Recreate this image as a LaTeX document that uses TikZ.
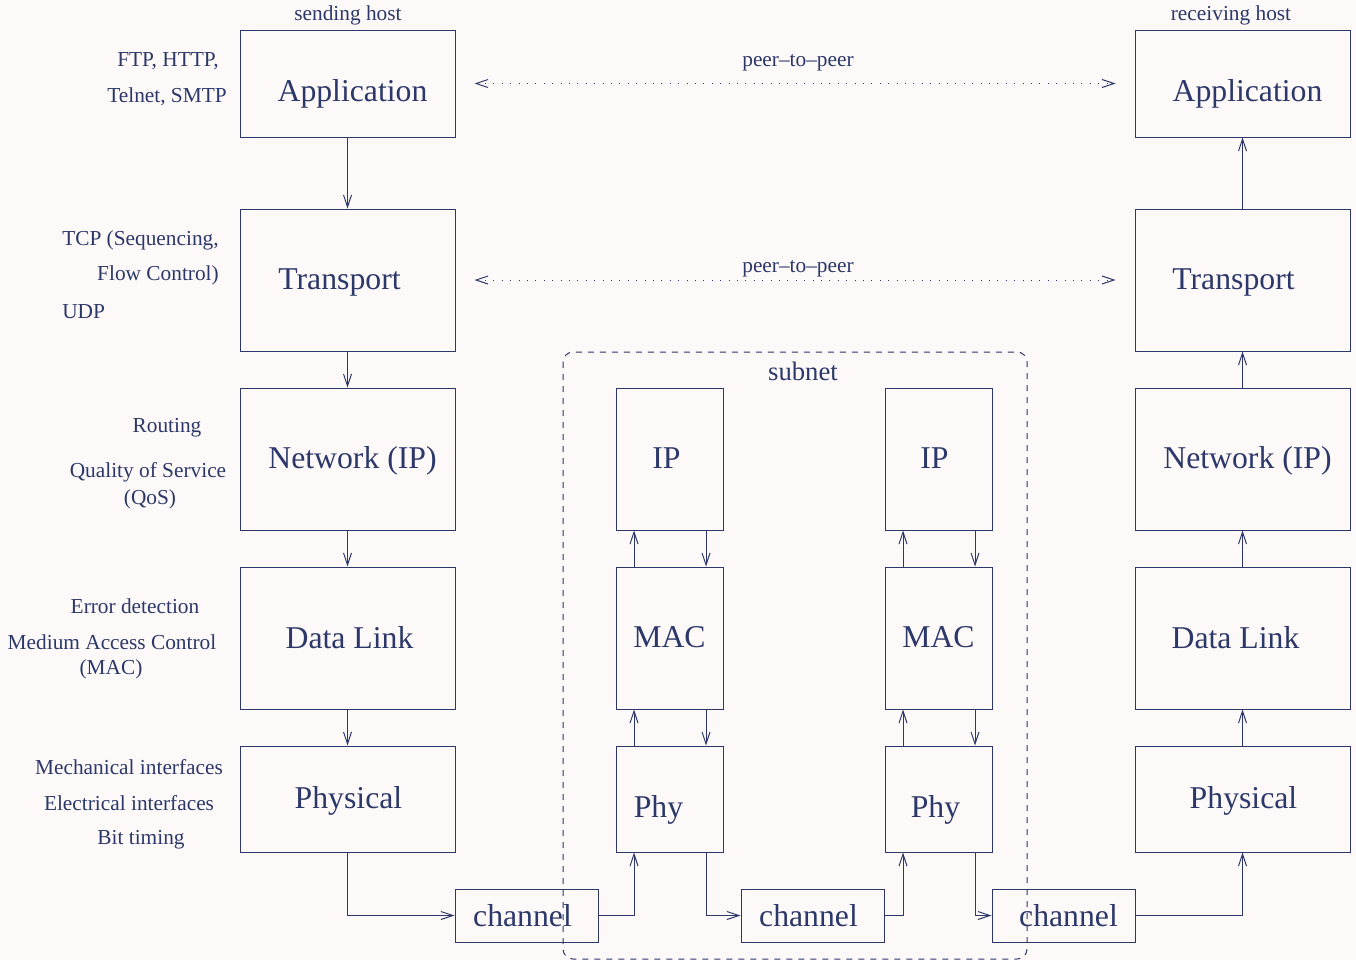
\documentclass[tikz,border=0pt]{standalone}
\usepackage{fontspec}
\setmainfont{Liberation Serif}
\usetikzlibrary{arrows.meta}
\definecolor{ink}{RGB}{43,56,105}
\definecolor{paper}{RGB}{253,249,248}
\newlength\pu
\setlength\pu{0.75pt}
\tikzset{
  big/.style={text=ink, font=\fontsize{23.8}{28}\selectfont, inner sep=0pt},
  box/.style={draw=ink, line width=0.75pt, inner sep=0pt},
  layer/.style={box, minimum width=215*\pu},
  sub/.style={box, minimum width=107*\pu},
  chan/.style={box, minimum width=143*\pu, minimum height=53*\pu},
  txt/.style n args={3}{label={[big, xshift=#1*\pu, yshift=-#2*\pu]center:#3}},
  small/.style={text=ink, font=\fontsize{16}{19}\selectfont, inner sep=0pt},
  conn/.style={draw=ink, line width=0.75pt, -{Straight Barb[length=9pt,width=6pt]}},
  peer/.style={draw=ink, line width=0.75pt, dash pattern=on 0.8pt off 5.5pt, {Straight Barb[length=9pt,width=6pt]}-{Straight Barb[length=9pt,width=6pt]}, shorten <=19*\pu, shorten >=19*\pu},
  subnetbox/.style={draw=ink, line width=0.75pt, dash pattern=on 4.5pt off 4.5pt, rounded corners=7.5pt}
}
\begin{document}
\begin{tikzpicture}[x=0.75pt,y=-0.75pt]
\fill[paper] (0,0) rectangle (1356,960);
\useasboundingbox (0,0) rectangle (1356,960);
\begin{scope}
\clip (0,0) rectangle (1356,960);
% subnet
\draw[subnetbox] (563,352) rectangle (1027,959);
\node[small, font=\fontsize{20}{24}\selectfont] (subnetlbl) at (803,371) {subnet};

% left column
\node[layer, minimum height=107*\pu, txt={5}{10}{Application}] (appL) at (347.5,83.5) {};
\node[layer, minimum height=142*\pu, txt={-8}{2}{Transport}] (trL) at (347.5,280) {};
\node[layer, minimum height=142*\pu, txt={5}{2}{Network (IP)}] (netL) at (347.5,459) {};
\node[layer, minimum height=142*\pu, txt={2}{0}{Data Link}] (dlL) at (347.5,638) {};
\node[layer, minimum height=106*\pu, txt={1}{2}{Physical}] (phL) at (347.5,799) {};
% right column
\node[layer, minimum height=107*\pu, txt={5}{10}{Application}] (appR) at (1242.5,83.5) {};
\node[layer, minimum height=142*\pu, txt={-9}{2}{Transport}] (trR) at (1242.5,280) {};
\node[layer, minimum height=142*\pu, txt={5}{2}{Network (IP)}] (netR) at (1242.5,459) {};
\node[layer, minimum height=142*\pu, txt={-7}{0}{Data Link}] (dlR) at (1242.5,638) {};
\node[layer, minimum height=106*\pu, txt={1}{2}{Physical}] (phR) at (1242.5,799) {};
% subnet nodes
\node[sub, minimum height=142*\pu, txt={-3}{-1}{IP}] (ip1) at (669.5,459) {};
\node[sub, minimum height=142*\pu, txt={0}{-1}{MAC}] (mac1) at (669.5,638) {};
\node[sub, minimum height=106*\pu, txt={-11}{11}{Phy}] (phy1) at (669.5,799) {};
\node[sub, minimum height=142*\pu, txt={-4}{-1}{IP}] (ip2) at (938.5,459) {};
\node[sub, minimum height=142*\pu, txt={0}{-1}{MAC}] (mac2) at (938.5,638) {};
\node[sub, minimum height=106*\pu, txt={-3}{11}{Phy}] (phy2) at (938.5,799) {};
% channels
\node[chan, txt={-4}{0}{channel}] (ch1) at (526.5,915.5) {};
\node[chan, txt={-4}{0}{channel}] (ch2) at (812.5,915.5) {};
\node[chan, txt={5}{0}{channel}] (ch3) at (1063.5,915.5) {};

% host labels
\node[small] (sh) at (348,15) {sending host};
\node[small] (rh) at (1231,15) {receiving host};

% side labels
\node[small] (l1) at (168,61.5) {FTP, HTTP,};
\node[small] (l2) at (167,96.5) {Telnet, SMTP};
\node[small, anchor=west] (l3) at (62,240.5) {TCP (Sequencing,};
\node[small, anchor=east] (l4) at (219,275.5) {Flow Control)};
\node[small, anchor=west] (l5) at (62,311.5) {UDP};
\node[small] (l6) at (167,427.5) {Routing};
\node[small] (l7) at (148,472.5) {Quality of Service};
\node[small] (l8) at (150,499.5) {(QoS)};
\node[small] (l9) at (135,606.5) {Error detection};
\node[small] (l10) at (112,642.5) {Medium Access Control};
\node[small] (l11) at (111,669.5) {(MAC)};
\node[small] (l12) at (129,767.5) {Mechanical interfaces};
\node[small] (l13) at (129,803.5) {Electrical interfaces};
\node[small] (l14) at (141,839.5) {Bit timing};

% left column arrows
\draw[conn] (appL) -- (trL);
\draw[conn] (trL) -- (netL);
\draw[conn] (netL) -- (dlL);
\draw[conn] (dlL) -- (phL);
% right column arrows
\draw[conn] (phR) -- (dlR);
\draw[conn] (dlR) -- (netR);
\draw[conn] (netR) -- (trR);
\draw[conn] (trR) -- (appR);
% subnet arrows
\foreach \a/\b in {mac1/ip1, phy1/mac1, mac2/ip2, phy2/mac2}{
  \draw[conn] ([xshift=-35.5*\pu]\a.north) -- ([xshift=-35.5*\pu]\b.south);
  \draw[conn] ([xshift=36.5*\pu]\b.south) -- ([xshift=36.5*\pu]\a.north);
}
% channel paths
\draw[conn] (phL.south) |- (ch1.west);
\draw[conn] (ch1.east) -| ([xshift=-35.5*\pu]phy1.south);
\draw[conn] ([xshift=36.5*\pu]phy1.south) |- (ch2.west);
\draw[conn] (ch2.east) -| ([xshift=-35.5*\pu]phy2.south);
\draw[conn] ([xshift=36.5*\pu]phy2.south) |- (ch3.west);
\draw[conn] (ch3.east) -| (phR.south);

% peer-to-peer
\draw[peer] (appL.east) -- (appR.west)
  node[small, midway, above=12*\pu, xshift=3*\pu] (p1) {peer--to--peer};
\draw[peer] (trL.east) -- (trR.west)
  node[small, midway, above=2*\pu, xshift=3*\pu] (p2) {peer--to--peer};
\end{scope}
\end{tikzpicture}
\end{document}
